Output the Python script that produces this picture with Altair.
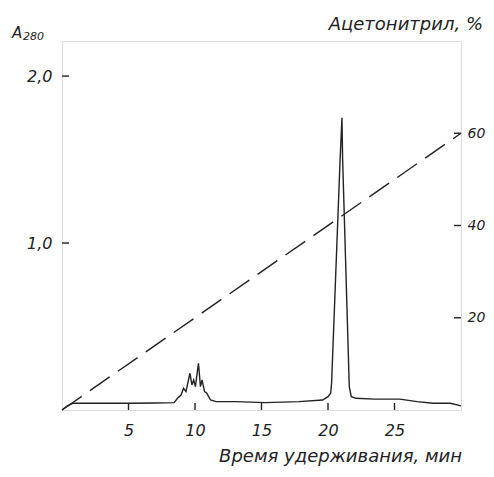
import altair as alt
import pandas as pd

# Chromatogram (retention time, min ; absorbance A280)
time_min = [0.0, 0.4, 0.81, 3.0, 5.1, 7.0, 8.43, 8.7, 8.95, 9.14, 9.32, 9.62, 9.77, 9.9,
            10.03, 10.26, 10.41, 10.53, 10.72, 10.89, 11.17, 11.58, 13.0, 15.3, 17.8,
            19.6, 20.0, 20.2, 20.27, 20.9, 21.05, 21.1, 21.6, 21.75, 22.1, 23.5, 25.4,
            26.7, 27.9, 29.2, 30.0]
a280 = [0.0, 0.025, 0.04, 0.04, 0.04, 0.042, 0.044, 0.072, 0.09, 0.13, 0.11, 0.22, 0.15, 0.18,
        0.14, 0.28, 0.14, 0.18, 0.11, 0.10, 0.06, 0.05, 0.05, 0.044, 0.05,
        0.06, 0.08, 0.10, 0.16, 1.48, 1.75, 1.50, 0.14, 0.08, 0.07, 0.065, 0.065,
        0.05, 0.04, 0.04, 0.025]

# Acetonitrile gradient (%)
grad_time = [0, 30]
grad_pct = [0, 60]

x_ticks = [5, 10, 15, 20, 25]
left_ticks = [1.0, 2.0]
left_labels = ["1,0", "2,0"]
right_ticks = [20, 40, 60]

W, H = 399, 369
FONT = "DejaVu Sans"
INK = "#222222"

xs = alt.Scale(domain=[0, 30], nice=False, zero=False)
ys = alt.Scale(domain=[0, 2.21], nice=False)
y2s = alt.Scale(domain=[0, 80], nice=False)

chrom = pd.DataFrame({"t": time_min, "a": a280})
grad = pd.DataFrame({"t": grad_time, "p": grad_pct})

label_expr = "datum.value == 1 ? '1,0' : datum.value == 2 ? '2,0' : ''"

x_axis = alt.Axis(values=x_ticks, title=None, tickSize=0, domain=False, grid=False,
                  labelFont=FONT, labelFontStyle="italic", labelFontSize=16,
                  labelColor=INK, labelPadding=12)

line = alt.Chart(chrom).mark_line(color=INK, strokeWidth=1.4).encode(
    x=alt.X("t:Q", scale=xs, axis=x_axis),
    y=alt.Y("a:Q", scale=ys, axis=alt.Axis(orient="left", values=left_ticks, labelExpr=label_expr,
                                           title=None, tickSize=0, domain=False, grid=False,
                                           labelFont=FONT, labelFontStyle="italic",
                                           labelFontSize=16, labelColor=INK, labelPadding=10)),
)

gline = alt.Chart(grad).mark_line(color=INK, strokeWidth=1.4, strokeDash=[24, 10]).encode(
    x=alt.X("t:Q", scale=xs, axis=x_axis),
    y=alt.Y("p:Q", scale=y2s, axis=alt.Axis(orient="right", values=right_ticks, title=None,
                                            tickSize=0, domain=False, grid=False,
                                            labelFont=FONT, labelFontStyle="italic",
                                            labelFontSize=14, labelColor=INK, labelPadding=6)),
)

# inward ticks
xt = alt.Chart(pd.DataFrame({"v": x_ticks})).mark_rule(color=INK, strokeWidth=1.4).encode(
    x=alt.X("v:Q", scale=xs, axis=x_axis), y=alt.value(H - 7), y2=alt.value(H))
lt = alt.Chart(pd.DataFrame({"v": left_ticks})).mark_rule(color=INK, strokeWidth=1.4).encode(
    y=alt.Y("v:Q", scale=ys, axis=None), x=alt.value(0), x2=alt.value(7))
rt = alt.Chart(pd.DataFrame({"v": right_ticks})).mark_rule(color=INK, strokeWidth=1.4).encode(
    y=alt.Y("v:Q", scale=y2s, axis=None), x=alt.value(W - 7), x2=alt.value(W))

one = pd.DataFrame({"k": [0]})


def txt(s, x, y, size, align="left"):
    return alt.Chart(one).mark_text(font=FONT, fontStyle="italic", fontSize=size, color=INK,
                                    align=align, baseline="middle").encode(
        x=alt.value(x), y=alt.value(y), text=alt.value(s))


tA = txt("A", -50, -8, 15)
t280 = txt("280", -39, -4, 11)
tAc = txt("Ацетонитрил, %", 421, -16, 18, "right")
tX = txt("Время  удерживания, мин", 400, 416, 18, "right")

chart = alt.layer(line, gline, xt, lt, rt, tA, t280, tAc, tX).resolve_scale(
    y="independent"
).properties(
    width=W, height=H,
    padding={"left": 54, "top": 33, "right": 25, "bottom": 59},
    autosize=alt.AutoSizeParams(type="none"),
).configure_view(stroke=INK, strokeWidth=1.8).configure(background="white")

chart.save("out.html", embed_options={"renderer": "svg", "actions": False})
